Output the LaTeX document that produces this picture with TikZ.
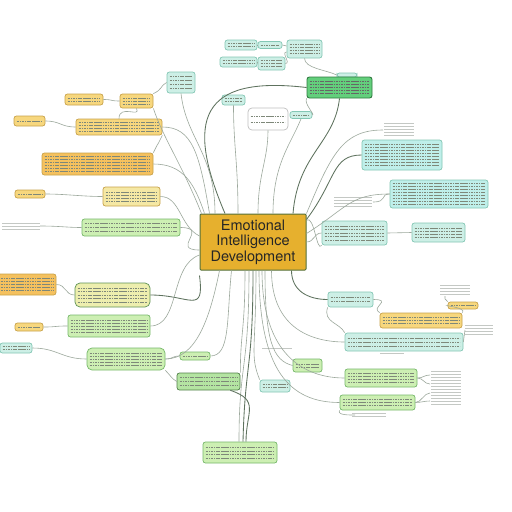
\documentclass[tikz,border=0pt]{standalone}
\usepackage{fontspec}
\setmainfont{TeX Gyre Heros}
\definecolor{gold}{HTML}{E6B02E}
\definecolor{goldb}{HTML}{55703A}
\definecolor{yel}{HTML}{F7D77E}
\definecolor{yelb}{HTML}{C8A24A}
\definecolor{lyel}{HTML}{F5E8A4}
\definecolor{org}{HTML}{F5C15E}
\definecolor{tealf}{HTML}{CDEFE6}
\definecolor{tealb}{HTML}{84C7B5}
\definecolor{cyanf}{HTML}{BFEFEA}
\definecolor{lgrn}{HTML}{E0F6BC}
\definecolor{grn}{HTML}{CDEFB3}
\definecolor{grnb}{HTML}{76B86A}
\definecolor{dgrn}{HTML}{B4E4A2}
\definecolor{bgrn}{HTML}{63CF7C}
\definecolor{bgrnb}{HTML}{2F7A40}
\definecolor{edgec}{HTML}{9CA89C}
\definecolor{edged}{HTML}{5E725E}
\definecolor{txtc}{HTML}{7E8879}
\definecolor{faintc}{HTML}{C4C8C4}
\tikzset{
  tl/.store in=\tlnum, tl=2,
  tlgap/.store in=\tlgap, tlgap=3,
  tlcol/.store in=\tlcol, tlcol=txtc,
  txt/.style={path picture={
    \foreach \k in {1,...,\tlnum}{
      \draw[draw=\tlcol, line width=0.45pt, dash pattern=on 2.6pt off 0.7pt on 1.2pt off 0.7pt]
        ([xshift=2.5pt,yshift={((\tlnum+1)/2-\k)*\tlgap*1pt}]path picture bounding box.west) --
        ([xshift=-3pt,yshift={((\tlnum+1)/2-\k)*\tlgap*1pt}]path picture bounding box.east);
    }}},
  box/.style={draw, rounded corners=2.5pt, inner sep=0pt, line width=0.7pt, txt},
  tbox/.style={box, fill=tealf, draw=tealb},
  cbox/.style={box, fill=cyanf, draw=tealb},
  ybox/.style={box, fill=yel, draw=yelb},
  gbox/.style={box, fill=grn, draw=grnb},
  lgbox/.style={box, fill=lgrn, draw=grnb},
  edge/.style={draw=edgec, line width=0.6pt},
  edark/.style={draw=edged, line width=0.85pt},
  faint/.style={draw=faintc, line width=0.6pt},
}
\newcommand\ftext[4]{\foreach \k in {1,...,#4}{\draw[faint] (#1,#2+\k*3) -- ++(#3,0);}}
\begin{document}
\begin{tikzpicture}[x=1pt,y=-1pt]
\fill[white] (0,0) rectangle (512,512);
\useasboundingbox (0,0) rectangle (512,512);

% ---------- nodes ----------
\node[box, fill=gold, draw=goldb, line width=1pt, rounded corners=1pt, path picture={}, minimum width=106pt, minimum height=56pt,
  align=center, font=\fontsize{14.5}{15.5}\selectfont, text=black!85] (c) at (253,242) {Emotional\\Intelligence\\Development};

\node[tbox, minimum width=32pt, minimum height=10pt, tl=2] (A1) at (241,45) {};
\node[tbox, minimum width=24pt, minimum height=7pt, tl=1] (A2) at (270,45) {};
\node[tbox, minimum width=35pt, minimum height=18pt, tl=4] (A3) at (304.5,49) {};
\node[tbox, minimum width=37pt, minimum height=10pt, tl=2] (A4) at (238.5,62) {};
\node[tbox, minimum width=27pt, minimum height=13pt, tl=3] (A5) at (271.5,63.5) {};
\node[box, fill=tealf, draw=tealb, minimum width=20pt, minimum height=4pt, tl=1, path picture={}] (Bt) at (347,75) {};
\node[box, fill=bgrn, draw=bgrnb, line width=0.9pt, minimum width=65pt, minimum height=21pt, tl=5, tlcol=black!60] (B) at (339.5,87.5) {};
\node[tbox, minimum width=23pt, minimum height=10pt, tl=2] (C1) at (233.5,100) {};
\node[box, fill=white, draw=gray!50, rounded corners=4pt, minimum width=40pt, minimum height=22pt, tl=2, tlgap=6] (C2) at (268,119) {};
\node[tbox, minimum width=22pt, minimum height=7pt, tl=1] (C3) at (301,115) {};
\node[tbox, minimum width=28pt, minimum height=21pt, tl=4, tlgap=4] (T0) at (181,82.5) {};

\node[ybox, minimum width=38pt, minimum height=11pt, tl=2] (Y1) at (84,99.5) {};
\node[ybox, minimum width=33pt, minimum height=14pt, tl=3] (Y2) at (136.5,101) {};
\node[ybox, minimum width=31pt, minimum height=10pt, tl=1] (Y3) at (29.5,121) {};
\node[ybox, minimum width=86pt, minimum height=16pt, tl=4] (Y4) at (119,127) {};
\node[ybox, fill=org, minimum width=111pt, minimum height=22pt, tl=6] (Y5) at (97.5,164) {};
\node[ybox, minimum width=30pt, minimum height=8pt, tl=1] (Y6) at (30,194) {};
\node[ybox, fill=lyel, minimum width=57pt, minimum height=19pt, tl=4] (Y7) at (131.5,196.5) {};

\node[gbox, minimum width=98pt, minimum height=17pt, tl=3, tlgap=4] (L1) at (131,227.5) {};
\node[ybox, fill=org, minimum width=58pt, minimum height=21pt, tl=5] (L2) at (27,284.5) {};
\node[box, fill=lyel!60!lgrn, draw=grnb!80!black, rounded corners=5pt, minimum width=75pt, minimum height=24pt, tl=5, tlgap=3.5] (L3) at (112.5,295) {};
\node[ybox, minimum width=28pt, minimum height=8pt, tl=1] (L4) at (29,327) {};
\node[gbox, minimum width=82pt, minimum height=22pt, tl=5] (L5) at (109,326) {};
\node[tbox, minimum width=32pt, minimum height=10pt, tl=2] (L6) at (16,348) {};
\node[gbox, rounded corners=5pt, minimum width=78pt, minimum height=22pt, tl=5] (L7) at (126,359) {};
\node[gbox, minimum width=30pt, minimum height=8pt, tl=1] (L8) at (195,356) {};
\node[box, fill=dgrn, draw=grnb!70!black, minimum width=63pt, minimum height=17pt, tl=3, tlgap=4] (L9) at (208.5,381.5) {};
\node[tbox, minimum width=30pt, minimum height=12pt, tl=2] (L10) at (275,386) {};
\node[gbox, minimum width=74pt, minimum height=21pt, tl=4, tlgap=3.5] (B1) at (240,452.5) {};

\node[cbox, minimum width=80pt, minimum height=30pt, tl=8] (R1) at (402,155) {};
\node[cbox, minimum width=98pt, minimum height=28pt, tl=8] (R2) at (439,194) {};
\node[tbox, minimum width=65pt, minimum height=24pt, tl=5, tlgap=3.5] (RM1) at (354.5,233) {};
\node[tbox, minimum width=53pt, minimum height=19pt, tl=4] (RM2) at (438.5,232.5) {};
\node[tbox, minimum width=45pt, minimum height=15pt, tl=2, tlgap=4] (R3) at (350.5,299.5) {};
\node[ybox, minimum width=30pt, minimum height=7pt, tl=1] (R4) at (463,305.5) {};
\node[ybox, minimum width=82pt, minimum height=15pt, tl=3] (R5) at (421,320.5) {};
\node[tbox, minimum width=118pt, minimum height=18pt, tl=3, tlgap=4] (R6) at (404,342) {};
\node[gbox, minimum width=29pt, minimum height=13pt, tl=2] (R7) at (307.5,365.5) {};
\node[gbox, minimum width=72pt, minimum height=18pt, tl=4] (R8) at (381,378) {};
\node[gbox, minimum width=75pt, minimum height=15pt, tl=3] (R9) at (377.5,402.5) {};

% faint text fragments
\coordinate (g1) at (40,226);
\coordinate (g2) at (383,130);
\coordinate (g3) at (373,202);
\coordinate (g4) at (445,296);
\coordinate (g5) at (465,330);
\coordinate (g6a) at (430,375);
\coordinate (g6b) at (430,384);
\coordinate (g6c) at (430,393);
\coordinate (g6d) at (430,401);
\coordinate (g7) at (355,415);
\ftext{2}{220}{38}{3}
\ftext{384}{120}{30}{5}
\ftext{334}{194}{38}{4}
\ftext{440}{282}{30}{4}
\ftext{465}{322}{28}{4}
\ftext{431}{368}{30}{12}
\ftext{352}{410}{34}{2}
\ftext{380}{350}{24}{1}
\ftext{262}{345}{30}{1}

% ---------- connectors from centre ----------
\draw[edge] ([xshift=-38pt]c.north) .. controls +(0,-60) and +(5,45) .. (T0.south);
\draw[edark] ([xshift=-28pt]c.north) .. controls (185,120) and (200,75) .. (B.west);
\draw[edge] ([xshift=-15pt]c.north) .. controls +(0,-50) and +(0,40) .. (C1.south);
\draw[edge] ([xshift=5pt]c.north) .. controls +(0,-40) and +(0,30) .. (C2.south);
\draw[edge] ([xshift=20pt]c.north) .. controls +(0,-50) and +(-10,25) .. (C3.south);
\draw[edark] ([xshift=40pt]c.north) .. controls +(5,-60) and +(-5,45) .. (B.south);
\draw[edge] (c.north east) .. controls +(25,-60) and +(-40,0) .. (g2);
\draw[edark] ([yshift=-6pt]c.north east) .. controls +(30,-40) and +(-30,0) .. (R1.west);
\draw[edge] ([yshift=-20pt]c.north east) .. controls +(40,-25) and +(-40,0) .. (R2.west);
\draw[edge] (c.east) .. controls +(8,0) and +(-8,0) .. (RM1.west);
\draw[edge] ([yshift=22pt]c.east) .. controls +(8,-5) and +(-5,8) .. (RM1.south west);
\draw[edark] ([xshift=-15pt]c.south east) .. controls +(0,20) and +(-20,0) .. (R3.west);
\draw[edge] ([xshift=-35pt]c.south east) .. controls +(0,60) and +(-30,0) .. (R6.west);
\draw[edge] ([xshift=12pt]c.south) .. controls +(0,70) and +(-20,-5) .. (R7.west);
\draw[edge] ([xshift=9pt]c.south) .. controls +(0,85) and +(-40,0) .. (R8.west);
\draw[edge] ([xshift=6pt]c.south) .. controls +(0,100) and +(-50,0) .. (R9.west);
\draw[edge] ([xshift=3pt]c.south) .. controls +(0,80) and +(-10,-25) .. (L10.north west);
\draw[edark] (c.south) .. controls +(0,100) and +(2,-80) .. ([xshift=3pt]B1.north);
\draw[edge] ([xshift=-4pt]c.south) .. controls +(0,100) and +(0,-80) .. ([xshift=-1pt]B1.north);
\draw[edge] ([xshift=-8pt]c.south) .. controls +(0,60) and +(0,-40) .. (L9.north east);
\draw[edark] ([yshift=-5pt]c.south west) .. controls +(5,40) and +(40,0) .. (L3.east);
\draw[edge] ([yshift=-8pt]c.west) .. controls +(-30,0) and +(30,0) .. (L1.east);
\draw[edge] ([yshift=-13pt]c.west) .. controls +(-30,10) and +(30,0) .. (L5.east);
\draw[edge] ([yshift=6pt]c.west) .. controls +(-20,-10) and +(20,0) .. (Y7.east);
\draw[edge] ([xshift=5pt]c.north west) .. controls +(-10,-30) and +(30,0) .. (Y5.east);
\draw[edge] ([xshift=10pt]c.north west) .. controls +(-10,-60) and +(30,0) .. (Y4.east);
\draw[edge] ([xshift=20pt]c.south west) .. controls +(-10,50) and +(30,0) .. (L7.east);
\draw[edge] ([xshift=32pt]c.south west) .. controls +(-5,50) and +(20,0) .. (L8.east);
\draw[edge] ([xshift=2pt]c.north west) .. controls +(-20,-50) and +(10,30) .. (Y2.south east);

% ---------- sub connectors ----------
\draw[edge] (Y1.east) .. controls +(10,0) and +(-10,0) .. (Y2.west);
\draw[edge] (Y2.north east) .. controls +(10,-5) and +(-8,5) .. (T0.west);
\draw[edge] (Y3.east) .. controls +(15,0) and +(-15,0) .. (Y4.west);
\draw[edge] (Y4.north) .. controls +(0,-15) and +(5,10) .. (Y2.south);
\draw[edge] (Y5.north east) .. controls +(10,-20) and +(-10,20) .. (Y4.south east);
\draw[edge] (Y6.east) .. controls +(20,0) and +(-20,0) .. (Y7.west);
\draw[edge] (g1) .. controls +(20,0) and +(-15,0) .. (L1.west);
\draw[edge] (L2.east) .. controls +(10,0) and +(-10,0) .. (L3.west);
\draw[edge] (L4.east) .. controls +(15,0) and +(-15,0) .. (L5.west);
\draw[edge] (L6.east) .. controls +(25,0) and +(-25,0) .. (L7.west);
\draw[edge] (L7.east) .. controls +(8,0) and +(-8,0) .. (L8.west);
\draw[edge] (L7.south east) .. controls +(5,5) and +(-5,-3) .. (L9.west);
\draw[edark] ([xshift=-10pt]L9.south east) .. controls +(30,10) and +(0,-30) .. ([xshift=6pt]B1.north);
\draw[edge] (A1.east) -- (A2.west);
\draw[edge] (A2.east) -- ([yshift=3pt]A3.west);
\draw[edge] (A4.east) -- (A5.west);
\draw[edge] (A5.east) .. controls +(6,0) and +(-6,0) .. ([yshift=-3pt]A3.west);
\draw[edge] (A3.south) .. controls +(0,10) and +(-10,-5) .. (Bt.west);
\draw[edge] (C3.east) .. controls +(3,0) and +(-3,5) .. (B.south west);
\draw[edge] (RM1.east) .. controls +(12,0) and +(-12,0) .. (RM2.west);
\draw[edge] (R3.east) .. controls +(20,0) and +(-10,-5) .. (R5.north west);
\draw[edge] (R3.south west) .. controls +(-5,15) and +(-5,-10) .. (R6.north west);
\draw[edge] (R5.north east) .. controls +(5,-5) and +(-5,0) .. (R4.west);
\draw[edge] (R4.north west) .. controls +(-3,-4) and +(0,5) .. (g4);
\draw[edge] (R6.east) -- (g5);
\draw[edge] (R8.east) .. controls +(6,0) and +(-6,0) .. (g6a);
\draw[edge] (R8.east) .. controls +(6,0) and +(-6,0) .. (g6b);
\draw[edge] (R9.east) .. controls +(6,0) and +(-6,0) .. (g6c);
\draw[edge] (R9.east) .. controls +(6,0) and +(-6,0) .. (g6d);
\draw[edge] (R9.south west) .. controls +(-3,5) and +(-5,0) .. (g7);
\draw[edge] (R2.west) .. controls +(-10,0) and +(15,0) .. (g3);
\end{tikzpicture}
\end{document}
